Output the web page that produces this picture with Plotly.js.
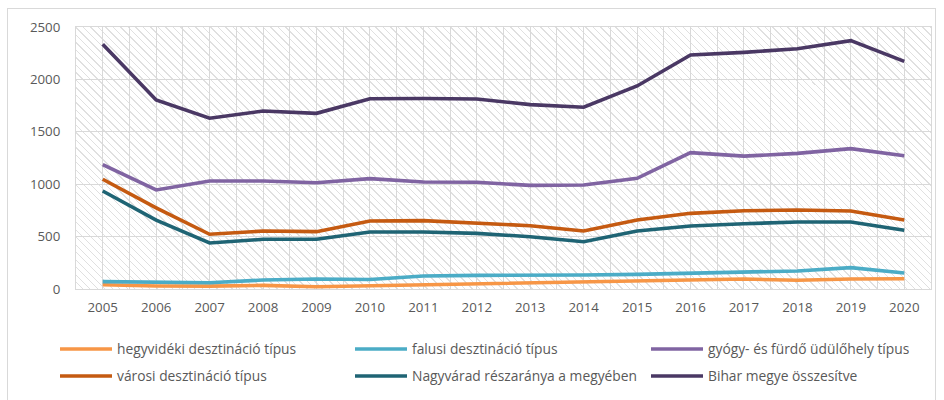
<!DOCTYPE html>
<html>
<head>
<meta charset="utf-8">
<script src="https://cdn.plot.ly/plotly-3.0.1.min.js"></script>
<style>
  html, body { margin: 0; padding: 0; background: #ffffff; }
  #wrap { position: relative; width: 944px; height: 400px; overflow: hidden; }
  #frame { position: absolute; left: 7px; top: 8px; width: 929px; height: 420px; border: 1px solid #D9D9D9; box-sizing: border-box; }
  #hatch { position: absolute; left: 76px; top: 27px; width: 855px; height: 262px;
    background: repeating-linear-gradient(45deg, #ffffff 0px, #ffffff 4.3px, #E0E0E0 4.3px, #E0E0E0 5.3px); }
  #chart { position: absolute; left: 0; top: 0; }
</style>
</head>
<body>
<div id="wrap">
  <div id="frame"></div>
  <div id="hatch"></div>
  <div id="chart"></div>
</div>
<script>
const years = [2005, 2006, 2007, 2008, 2009, 2010, 2011, 2012, 2013, 2014, 2015, 2016, 2017, 2018, 2019, 2020];
const yearLabels = ["2005","2006","2007","2008","2009","2010","2011","2012","2013","2014","2015","2016","2017","2018","2019","2020"];

const seriesNames = [
  "hegyvidéki desztináció típus",
  "falusi desztináció típus",
  "gyógy- és fürdő üdülőhely típus",
  "városi desztináció típus",
  "Nagyvárad részaránya a megyében",
  "Bihar megye összesítve"
];

const hegyvideki = [41, 29, 27, 35, 22, 31, 48, 54, 60, 70, 76, 86, 95, 83, 95, 98];
const falusi     = [70, 67, 60, 86, 95, 91, 124, 130, 130, 134, 140, 153, 165, 172, 204, 153];
const gyogy      = [1186, 945, 1031, 1031, 1014, 1053, 1021, 1018, 989, 992, 1056, 1301, 1268, 1294, 1339, 1272];
const varosi     = [1047, 775, 522, 553, 547, 649, 652, 627, 604, 553, 658, 722, 747, 754, 744, 658];
const nagyvarad  = [935, 658, 439, 474, 474, 544, 544, 531, 499, 451, 553, 601, 623, 639, 639, 560];
const bihar      = [2335, 1803, 1629, 1698, 1676, 1816, 1818, 1813, 1759, 1734, 1937, 2233, 2258, 2293, 2370, 2172];

const seriesValues = [hegyvideki, falusi, gyogy, varosi, nagyvarad, bihar];
const seriesColors = ["#F79646", "#4BACC6", "#8064A2", "#C55A11", "#1F6474", "#4A3864"];

const legendIds = ["legend", "legend2", "legend3", "legend4", "legend5", "legend6"];

const traces = seriesValues.map((vals, i) => ({
  type: "scatter",
  mode: "lines",
  x: years,
  y: vals,
  name: seriesNames[i],
  legend: legendIds[i],
  line: { color: seriesColors[i], width: 3.6 },
  hoverinfo: "x+y+name"
}));

const fontFam = "'Open Sans', Lato, sans-serif";
const legendFont = { family: fontFam, size: 13.8, color: "#595959" };

// legend slot positions (pixels in the 944x400 container): 3 columns x 2 rows
const legendColX = [55, 350, 646];
const legendRowY = [349, 376];

function legendBox(i) {
  return {
    orientation: "h",
    xref: "container",
    yref: "container",
    x: legendColX[i % 3] / 944,
    xanchor: "left",
    y: 1 - legendRowY[Math.floor(i / 3)] / 400,
    yanchor: "middle",
    itemwidth: 52,
    font: legendFont,
    bgcolor: "rgba(0,0,0,0)",
    borderwidth: 0
  };
}

const layout = {
  width: 944,
  height: 400,
  margin: { l: 76, r: 13, t: 27, b: 111, pad: 0 },
  paper_bgcolor: "rgba(0,0,0,0)",
  plot_bgcolor: "rgba(0,0,0,0)",
  font: { family: fontFam, size: 13, color: "#595959" },
  showlegend: true,
  xaxis: {
    type: "linear",
    range: [2004.5, 2020.5],
    tickmode: "array",
    tickvals: years,
    ticktext: yearLabels,
    ticks: "",
    showgrid: true,
    gridcolor: "#D9D9D9",
    gridwidth: 1,
    minor: { tickmode: "linear", tick0: 2004.5, dtick: 1, showgrid: true, gridcolor: "#D9D9D9", gridwidth: 1, ticks: "" },
    showline: true,
    linecolor: "#D9D9D9",
    linewidth: 1,
    mirror: true,
    zeroline: false,
    ticklabelstandoff: 6,
    tickfont: { family: fontFam, size: 13.3, color: "#595959" },
    fixedrange: true
  },
  yaxis: {
    range: [0, 2500],
    dtick: 500,
    tick0: 0,
    ticks: "",
    showgrid: true,
    gridcolor: "#D9D9D9",
    gridwidth: 1,
    showline: true,
    linecolor: "#D9D9D9",
    linewidth: 1,
    mirror: true,
    zeroline: false,
    ticklabelstandoff: 12,
    tickfont: { family: fontFam, size: 13.3, color: "#595959" },
    fixedrange: true
  }
};
legendIds.forEach((id, i) => { layout[id] = legendBox(i); });

Plotly.newPlot("chart", traces, layout, { displayModeBar: false, staticPlot: true });
</script>
</body>
</html>
